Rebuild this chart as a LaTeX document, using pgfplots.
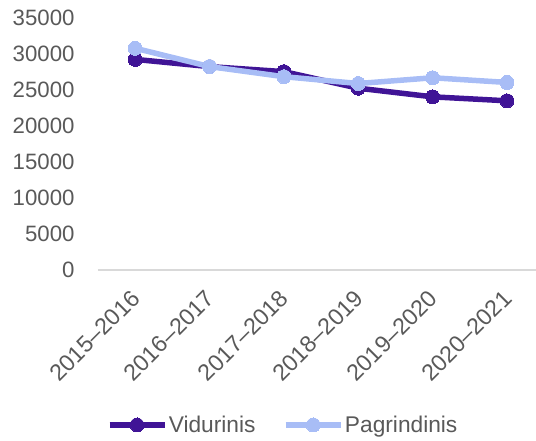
\documentclass[border=0pt]{standalone}
\usepackage{pgfplots}
\pgfplotsset{compat=1.18}
\usepackage{fontspec}
\setmainfont{Liberation Sans}
\definecolor{darkp}{RGB}{64,20,150}
\definecolor{lightp}{RGB}{168,189,246}
\definecolor{txt}{RGB}{89,89,89}
\definecolor{axgray}{RGB}{217,217,217}
\begin{document}
\begin{tikzpicture}
\begin{axis}[
  at={(0,0)}, anchor=south west,
  scale only axis,
  width=438bp, height=252bp,
  xmin=-0.5, xmax=5.39,
  ymin=0, ymax=35000,
  clip=false,
  axis x line*=bottom,
  axis y line*=left,
  y axis line style={draw=none},
  x axis line style={draw=axgray, line width=1.5bp, -},
  major tick length=0pt,
  xtick={0,1,2,3,4,5},
  xticklabels={2015–2016,2016–2017,2017–2018,2018–2019,2019–2020,2020–2021},
  ytick={0,5000,10000,15000,20000,25000,30000,35000},
  scaled y ticks=false,
  /pgf/number format/1000 sep={},
  /pgf/number format/assume math mode=true,
  tick label style={font=\fontsize{22.3}{26}\selectfont, text=txt},
  xticklabel style={font=\fontsize{23.3}{26}\selectfont, xshift=3bp, yshift=-22bp, rotate=45, anchor=east},
  yticklabel style={anchor=east, xshift=-20bp},
  legend style={at={(0.422,-0.615)}, anchor=center, draw=none, font=\fontsize{22.8}{26}\selectfont, text=txt, legend columns=2, /tikz/every even column/.append style={column sep=26bp}, nodes={inner xsep=1.5bp}},
  legend image code/.code={
    \draw[#1,mark=none] (0bp,0bp) -- (55bp,0bp);
    \draw[#1] plot coordinates {(27.5bp,0bp)};
  },
]
\addplot[darkp, line width=5.5bp, mark=*, mark size=7bp, mark options={line width=0pt}] coordinates {
(0,29250) (1,28250) (2,27550) (3,25250) (4,24050) (5,23500)};
\addlegendentry{Vidurinis}
\addplot[lightp, line width=5.5bp, mark=*, mark size=7bp, mark options={line width=0pt}] coordinates {
(0,30800) (1,28250) (2,26850) (3,25900) (4,26700) (5,26050)};
\addlegendentry{Pagrindinis}
\end{axis}
\pgfresetboundingbox
\path[use as bounding box] (-98bp,-171bp) rectangle (438bp,270bp);
\end{tikzpicture}
\end{document}
